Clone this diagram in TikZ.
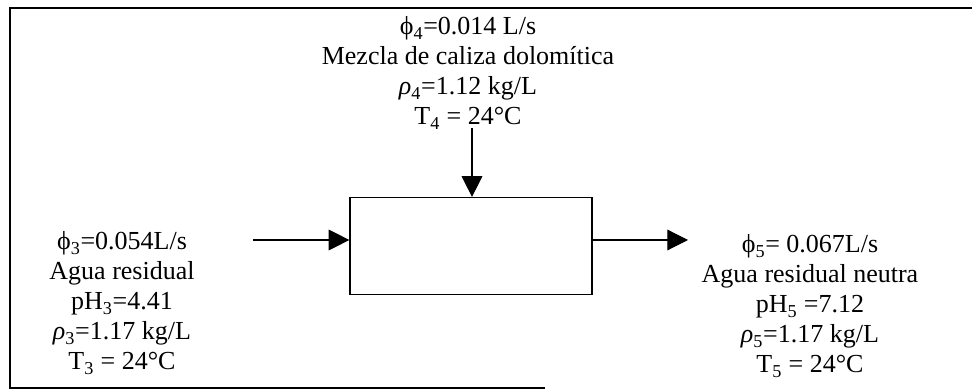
\documentclass[tikz,border=0pt]{standalone}
\usepackage{fontspec}
\setmainfont{Liberation Serif}
\usetikzlibrary{arrows.meta}

\begin{document}
\begin{tikzpicture}[x=0.75pt, y=-0.75pt, line width=0.9pt,
  flow/.style={-{Triangle[length=15.5pt,width=15.5pt]}},
  info/.style={align=center, font=\fontsize{19.5}{22.5}\selectfont, inner sep=0pt}]
  \useasboundingbox (0,0) rectangle (972,391);
  % frame
  \draw (972,8) -- (10,8) -- (10,388) -- (545,388);
  \node[draw, minimum width=181.5pt, minimum height=72.75pt] (mixer) at (471,246) {};
  \node[info] (lime) at (468,73) {ϕ\textsubscript{4}=0.014 L/s\\Mezcla de caliza dolomítica\\\textit{ρ}\textsubscript{4}=1.12 kg/L\\T\textsubscript{4} = 24°C};
  \node[info] (feed) at (122,303) {ϕ\textsubscript{3}=0.054L/s\\Agua residual\\pH\textsubscript{3}=4.41\\\textit{ρ}\textsubscript{3}=1.17 kg/L\\T\textsubscript{3} = 24°C};
  \node[info] (neutral) at (810,306) {ϕ\textsubscript{5}= 0.067L/s\\Agua residual neutra\\pH\textsubscript{5} =7.12\\\textit{ρ}\textsubscript{5}=1.17 kg/L\\T\textsubscript{5} = 24°C};
  \coordinate (in3) at (253,240);
  \coordinate (top4) at (472,128);
  \coordinate (out5) at (688,240);
  \draw[flow] (in3) -- (in3 -| mixer.west);
  \draw[flow] (top4) -- (top4 |- mixer.north);
  \draw[flow] (out5 -| mixer.east) -- (out5);
\end{tikzpicture}
\end{document}
